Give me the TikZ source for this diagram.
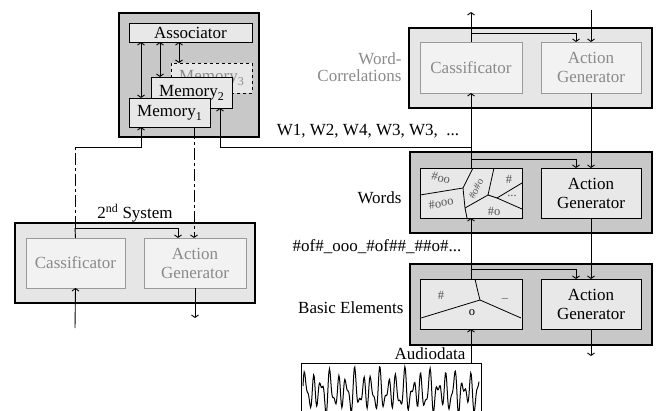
\documentclass[tikz,border=0pt]{standalone}
\usepackage{fontspec}
\setmainfont{Liberation Serif}
\usetikzlibrary{arrows.meta}
\definecolor{dkfill}{HTML}{C8C8C8}
\definecolor{ltfill}{HTML}{E6E6E6}
\definecolor{innerfill}{HTML}{E8E8E8}
\definecolor{palefill}{HTML}{F2F2F2}
\definecolor{gtext}{HTML}{8A8A8A}
\definecolor{gline}{HTML}{9A9A9A}
\definecolor{ptcol}{HTML}{555555}
\begin{document}
\begin{tikzpicture}[x=1pt,y=-1pt,
  font=\fontsize{17}{19}\selectfont,
  box/.style={draw, line width=0.9pt, inner sep=0pt, outer sep=0pt, align=center},
  outerdk/.style={box, fill=dkfill, line width=1.2pt},
  outerlt/.style={box, fill=ltfill, line width=1.2pt},
  inbox/.style={box, fill=innerfill},
  palebox/.style={box, draw=gline, line width=1pt, fill=palefill, text=gtext},
  conn/.style={line width=0.9pt},
  arr/.style={conn, -{Straight Barb[length=2.5pt,width=7pt]}},
  dbl/.style={conn, {Straight Barb[length=2.5pt,width=7pt]}-{Straight Barb[length=2.5pt,width=7pt]}},
  dashdot/.style={dash pattern=on 12pt off 3pt on 3pt off 3pt},
  part/.style={line width=0.8pt},
  ptext/.style={font=\fontsize{12.5}{14}\selectfont, text=ptcol, inner sep=0pt}
]
\useasboundingbox[fill=white] (0,0) rectangle (659,410);

% ---------- Memory block ----------
\node[outerdk, minimum width=140pt, minimum height=124pt] (memouter) at (189,75) {};
\node[inbox, minimum width=123pt, minimum height=19pt] (assoc) at (190.5,32.5) {Associator};
\node[box, dashed, fill=innerfill, text=gtext, minimum width=81pt, minimum height=30pt] (mem3) at (211.5,78) {Memory\raisebox{-4pt}{\fontsize{12}{12}\selectfont 3}};
\node[inbox, minimum width=81pt, minimum height=31pt] (mem2) at (191.5,92.5) {\raisebox{-5pt}{Memory\raisebox{-4pt}{\fontsize{12}{12}\selectfont 2}}};
\node[inbox, minimum width=81pt, minimum height=29pt] (mem1) at (169.5,112.5) {Memory\raisebox{-4pt}{\fontsize{12}{12}\selectfont 1}};

\draw[dbl] (141,0 |- assoc.south) -- (141,0 |- mem1.north);
\draw[dbl] (160,0 |- assoc.south) -- (160,0 |- mem2.north);
\draw[dbl] (179,0 |- assoc.south) -- (179,0 |- mem3.north);

% ---------- 2nd System ----------
\node[outerlt, minimum width=240pt, minimum height=80pt] (sys2) at (135,263) {};
\node[palebox, minimum width=99pt, minimum height=50pt] (sys2cls) at (75.5,263) {Cassificator};
\node[palebox, minimum width=102pt, minimum height=50pt] (sys2act) at (195,263) {Action\\Generator};
\node (sys2label) at (135,213) {2\textsuperscript{nd} System};

\coordinate (dj1) at (75,147);
\coordinate (dj2) at (141,147);
\coordinate (sj) at (75,228);
\draw[conn] (sys2cls.north) -- (sj);
\draw[conn, dashdot] (sj) -- (dj1);
\draw[arr] (dj1) -- (dj2) -- (141,0 |- mem1.south);
\draw[arr, dashdot] (194,0 |- mem1.south) -- (194,0 |- sys2act.north);
\draw[arr] (sj) -| (178,0 |- sys2act.north);
\coordinate (s2in) at (75,328);
\coordinate (s2out) at (195,318);
\draw[arr] (s2in) -- (sys2cls.south);
\draw[arr] (sys2act.south) -- (s2out);

% ---------- Word-Correlations ----------
\node[outerlt, minimum width=243pt, minimum height=80pt] (wcouter) at (530.5,68) {};
\node[palebox, minimum width=102pt, minimum height=51pt] (wccls) at (471,67.5) {Cassificator};
\node[palebox, minimum width=100pt, minimum height=51pt] (wcact) at (591,67.5) {Action\\Generator};
\node[anchor=east, align=right, text=gtext, font=\fontsize{17}{16.5}\selectfont] (wclabel) at (405,67) {Word-\\Correlations};

% ---------- Words ----------
\node[outerdk, minimum width=242pt, minimum height=81pt] (wouter) at (531,192.5) {};
\node[inbox, minimum width=102pt, minimum height=50pt] (wcls) at (471,193) {};
\node[inbox, minimum width=100pt, minimum height=50pt] (wact) at (591,193) {Action\\Generator};
\node[anchor=east] (wlabel) at (405,198) {Words};

% Words classifier partition
\draw[part] (473,168) -- (463,188) -- (465,208) -- (467,218);
\draw[part] (420,195) -- (463,188);
\draw[part] (494,168) -- (488,195) -- (497,198);
\draw[part] (465,208) -- (488,195);
\draw[part] (497,198) -- (522,183);
\draw[part] (497,198) -- (522,209);
\node[ptext, rotate=-12] (wp1) at (441,178) {\#oo};
\node[ptext, rotate=10] (wp2) at (441,203) {\#ooo};
\node[ptext, rotate=62, font=\fontsize{10.5}{12}\selectfont] (wp3) at (476,189) {\#o\#o};
\node[ptext] (wp4) at (509,179) {\#};
\node[ptext] (wp5) at (512,196) {...};
\node[ptext] (wp6) at (494,211) {\#o};

% ---------- Basic Elements ----------
\node[outerdk, minimum width=242pt, minimum height=81pt] (bouter) at (531,304.5) {};
\node[inbox, minimum width=102pt, minimum height=50pt] (bcls) at (471,304) {};
\node[inbox, minimum width=100pt, minimum height=50pt] (bact) at (591,304) {Action\\Generator};
\node[anchor=east] (blabel) at (407,308) {Basic Elements};

\draw[part] (475,279) -- (478,292) -- (480,300);
\draw[part] (421,318) -- (480,300) -- (521,318);
\node[ptext] (bp1) at (441,295) {\#};
\node[ptext] (bp2) at (505,298) {\_};
\node[ptext, text=black] (bp3) at (472,313) {o};

% ---------- texts ----------
\node (wseq) at (368,131) {W1, W2, W4, W3, W3, \ ...};
\node (hseq) at (377,247) {\#of\#\_ooo\_\#of\#\#\_\#\#o\#...};
\node (audio) at (430,354) {Audiodata};

% ---------- right column connectors ----------
\coordinate (topout) at (471,12);
\coordinate (topin) at (591,10);
\draw[arr] (wccls.north) -- (topout);
\draw[arr] (471,33) -| (576,0 |- wcact.north);
\draw[arr] (topin) -- (wcact.north);

\draw[arr] (wcls.north) -- (wccls.south);
\draw[arr] (471,159) -| (576,0 |- wact.north);
\draw[arr] (wcact.south) -- (wact.north);

\draw[arr] (bcls.north) -- (wcls.south);
\draw[arr] (471,269) -| (576,0 |- bact.north);
\draw[arr] (wact.south) -- (bact.north);

\coordinate (bout) at (591,356);
\draw[arr] (bact.south) -- (bout);

% W-sequence to memory
\coordinate (wj) at (471,147);
\draw[arr] (wj) -- (220,147) -- (220,0 |- mem2.south);

% ---------- waveform ----------
\coordinate (wavetop) at (471,363);
\draw[line width=1pt] (301,412) |- (481,363) -- (481,412);
\begin{scope}
\clip (301,363) rectangle (481,412);
\draw[line width=1pt] plot[domain=0:176, samples=300] ({303+\x}, {392 - 13*sin(\x*43.4) - 8*sin(\x*71+40) - 5*sin(\x*29+10)});
\end{scope}
\draw[arr] (wavetop) -- (bcls.south);
\end{tikzpicture}
\end{document}
